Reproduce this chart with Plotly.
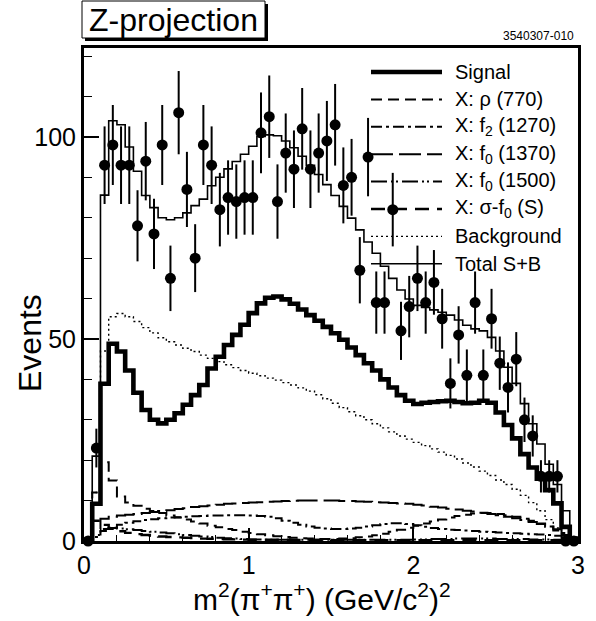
import plotly.graph_objects as go

# ---------------- binning ----------------
X_MIN, X_MAX, N_BINS = 0.0, 3.0, 60
BW = (X_MAX - X_MIN) / N_BINS
edges = [round(X_MIN + i * BW, 4) for i in range(N_BINS + 1)]
centers = [round((edges[i] + edges[i + 1]) / 2, 4) for i in range(N_BINS)]

# ---------------- data ----------------
data_counts = [0, 23, 93, 98, 93, 93, 78, 94, 76, 98,
               65, 106, 87, 70, 98, 93, 82, 85, 84, 85,
               85, 101, 105, 84, 96, 92, 102, 92, 96, 99,
               103, 88, 90, 67, 95, 59, 59, 82, 52, 58,
               65, 59, 64, 55, 39, 51, 41, 59, 41, 55,
               44, 38, 45, 30, 26, 16, 16, 16, 0, 0]
data_errors = [0, 4.8, 9.6, 9.9, 9.6, 9.6, 8.8, 9.7, 8.7, 9.9,
               8.1, 10.3, 9.3, 8.4, 9.9, 9.6, 9.1, 9.2, 9.2, 9.2,
               9.2, 10.0, 10.2, 9.2, 9.8, 9.6, 10.1, 9.6, 9.8, 9.9,
               10.1, 9.4, 9.5, 8.2, 9.7, 7.7, 7.7, 9.1, 7.2, 7.6,
               8.1, 7.7, 8.0, 7.4, 6.2, 7.1, 6.4, 7.7, 6.4, 7.4,
               6.6, 6.2, 6.7, 5.5, 5.1, 4.0, 4.0, 4.0, 0, 0]

signal = [0, 9.2, 38.9, 48.8, 46.9, 42.2, 36.7, 32.4, 30.0, 29.1,
          30.0, 31.6, 33.7, 36.1, 38.6, 42.7, 45.6, 48.5, 51.0, 53.5,
          56.4, 58.8, 60.2, 60.5, 59.8, 58.7, 57.3, 55.9, 54.5, 53.0,
          51.4, 49.8, 47.9, 46.0, 44.0, 42.2, 40.0, 38.0, 36.1, 34.7,
          33.9, 34.2, 34.4, 34.6, 34.7, 34.4, 34.1, 34.2, 34.7, 34.2,
          31.8, 28.7, 25.4, 21.5, 18.2, 15.4, 12.6, 9.3, 3.5, 0.3]

background = [0, 12.0, 47.0, 55.5, 56.3, 55.5, 54.3, 52.8, 51.5, 50.3,
              49.3, 48.5, 47.7, 46.9, 46.0, 45.2, 44.4, 43.6, 42.9, 42.2,
              41.5, 40.9, 40.3, 39.8, 39.2, 38.6, 37.9, 37.1, 36.2, 35.2,
              34.1, 33.0, 32.0, 31.0, 30.0, 29.0, 28.0, 27.0, 26.0, 25.2,
              24.4, 23.6, 22.8, 22.0, 21.2, 20.3, 19.3, 18.3, 17.3, 16.2,
              15.1, 14.0, 12.8, 11.3, 9.5, 7.5, 5.3, 3.2, 1.5, 0.3]

total_sb = [0, 21.0, 85.6, 104.0, 103.0, 97.5, 91.5, 85.5, 82.5, 80.0,
            79.5, 80.0, 81.2, 83.0, 84.6, 87.9, 90.0, 92.1, 93.9, 95.7,
            97.7, 100.1, 100.5, 100.3, 99.0, 97.3, 95.2, 93.0, 90.7, 88.2,
            85.5, 82.8, 79.9, 77.0, 74.0, 71.2, 68.0, 65.0, 62.1, 59.9,
            58.3, 57.8, 57.2, 56.6, 55.9, 54.7, 53.4, 52.5, 52.0, 50.4,
            47.0, 43.0, 39.0, 34.0, 29.0, 24.0, 19.0, 14.0, 7.5, 1.0]

rho770 = [0, 12.0, 19.5, 15.0, 11.0, 9.5, 8.7, 8.0, 7.4, 6.9,
          6.3, 5.8, 5.3, 4.8, 4.3, 3.8, 3.4, 3.0, 2.7, 2.3,
          2.0, 1.7, 1.4, 1.2, 1.0, 0.8, 0.7, 0.6, 0.5, 0.5,
          0.5, 0.6, 0.7, 0.9, 1.1, 1.4, 1.8, 2.3, 2.8, 3.3,
          3.8, 4.3, 4.8, 5.3, 5.8, 6.2, 6.5, 6.8, 6.9, 6.9,
          6.7, 6.4, 6.0, 5.5, 5.0, 4.3, 3.5, 2.6, 1.5, 0.3]

f2_1270 = [0, 1.0, 2.5, 3.3, 4.0, 4.5, 4.9, 5.2, 5.4, 5.6,
           5.8, 5.9, 6.0, 6.1, 6.2, 6.3, 6.3, 6.4, 6.4, 6.4,
           6.3, 6.2, 6.0, 5.6, 5.0, 4.5, 4.0, 3.6, 3.3, 3.1,
           3.0, 3.0, 3.1, 3.3, 3.6, 3.9, 4.2, 4.4, 4.4, 4.2,
           3.9, 3.5, 3.2, 3.0, 2.8, 2.7, 2.6, 2.5, 2.3, 2.2,
           2.1, 2.0, 1.9, 1.8, 1.7, 1.6, 1.5, 1.3, 0.9, 0.2]

f0_1370 = [0, 3.0, 5.5, 6.0, 6.3, 6.5, 6.7, 6.9, 7.2, 7.4,
           7.6, 7.9, 8.1, 8.4, 8.6, 8.8, 9.0, 9.2, 9.3, 9.4,
           9.5, 9.6, 9.7, 9.8, 9.9, 9.95, 10.0, 10.0, 10.0, 10.0,
           10.0, 9.9, 9.9, 9.8, 9.7, 9.6, 9.5, 9.4, 9.3, 9.2,
           9.0, 8.8, 8.5, 8.3, 8.0, 7.8, 7.5, 7.3, 7.0, 6.7,
           6.4, 6.0, 5.6, 5.2, 4.7, 4.2, 3.6, 2.9, 2.0, 0.5]

f0_1500 = [0, 1.5, 3.0, 3.2, 3.1, 2.9, 2.7, 2.5, 2.3, 2.1,
           1.9, 1.7, 1.5, 1.3, 1.1, 1.0, 0.8, 0.7, 0.6, 0.5,
           0.4, 0.35, 0.3, 0.3, 0.3, 0.3, 0.3, 0.3, 0.3, 0.3,
           0.3, 0.3, 0.3, 0.3, 0.3, 0.3, 0.3, 0.3, 0.3, 0.3,
           0.4, 0.4, 0.5, 0.5, 0.5, 0.6, 0.6, 0.6, 0.6, 0.6,
           0.5, 0.5, 0.5, 0.5, 0.4, 0.4, 0.4, 0.3, 0.2, 0.0]

sigma_f0 = [0, 5.0, 4.0, 3.0, 2.4, 2.0, 1.7, 1.5, 1.3, 1.1,
            1.0, 0.9, 0.8, 0.7, 0.6, 0.55, 0.5, 0.45, 0.4, 0.35,
            0.3, 0.3, 0.3, 0.3, 0.3, 0.25, 0.25, 0.25, 0.25, 0.25,
            0.2, 0.2, 0.2, 0.2, 0.2, 0.2, 0.2, 0.2, 0.2, 0.2,
            0.2, 0.2, 0.2, 0.2, 0.2, 0.2, 0.2, 0.2, 0.2, 0.2,
            0.2, 0.2, 0.2, 0.2, 0.2, 0.2, 0.2, 0.2, 0.1, 0.0]

legend_labels = ["Signal", "X: \u03c1 (770)", "X: f<sub>2</sub> (1270)",
                 "X: f<sub>0</sub> (1370)", "X: f<sub>0</sub> (1500)",
                 "X: \u03c3-f<sub>0</sub> (S)", "Background", "Total S+B"]

x_ticks = [0, 1, 2, 3]
y_ticks = [0, 50, 100]
X_TITLE = "m<sup>2</sup>(\u03c0<sup>+</sup>\u03c0<sup>+</sup>) (GeV/c<sup>2</sup>)<sup>2</sup>"
Y_TITLE = "Events"
BOX_TITLE = "Z-projection"
CORNER_ID = "3540307-010"

FONT = "Liberation Sans, Arial, Helvetica, sans-serif"

# ---------------- geometry ----------------
W, H = 596, 621
L, R, T, B = 84, 18, 48, 80
PW, PH = W - L - R, H - T - B


def px(xp):
    return (xp - L) / PW


def py(yp):
    return (H - B - yp) / PH


def step_xy(vals):
    xs = [edges[0]] + edges[:-1] + [edges[-1], edges[-1]]
    ys = [0] + list(vals) + [vals[-1], 0]
    return xs, ys


styles = [
    (signal, "solid", 4.6),
    (rho770, "11px,6px", 2.0),
    (f2_1270, "11px,4px,3px,4px", 2.0),
    (f0_1370, "22px,6px", 2.0),
    (f0_1500, "16px,4px,2px,3px,2px,4px", 2.0),
    (sigma_f0, "14px,8px", 2.4),
    (background, "2px,3px", 1.4),
    (total_sb, "solid", 1.6),
]

fig = go.Figure()
for vals, dash, wdt in styles:
    xs, ys = step_xy(vals)
    fig.add_trace(go.Scatter(x=xs, y=ys, mode="lines", line_shape="hv",
                             line=dict(color="black", width=wdt, dash=dash),
                             showlegend=False, hoverinfo="skip"))

fig.add_trace(go.Scatter(
    x=centers, y=data_counts, mode="markers",
    marker=dict(color="black", size=11),
    error_y=dict(type="data", array=data_errors, visible=True,
                 color="black", thickness=2, width=0),
    cliponaxis=False, showlegend=False))

shapes = []
# title box with shadow
shapes.append(dict(type="rect", xref="paper", yref="paper",
                   x0=px(85), x1=px(268), y0=py(41), y1=py(4),
                   fillcolor="black", line=dict(width=0)))
shapes.append(dict(type="rect", xref="paper", yref="paper",
                   x0=px(82), x1=px(265), y0=py(38), y1=py(1),
                   fillcolor="white", line=dict(color="black", width=1)))

annotations = [
    dict(text=BOX_TITLE, x=px(173.5), y=py(20), xref="paper", yref="paper",
         showarrow=False, font=dict(family=FONT, size=32, color="black"),
         xanchor="center", yanchor="middle"),
    dict(text=CORNER_ID, x=px(576), y=py(36), xref="paper", yref="paper",
         showarrow=False, font=dict(family=FONT, size=12, color="black"),
         xanchor="right", yanchor="middle"),
    dict(text=X_TITLE, x=px(322), y=py(597), xref="paper", yref="paper",
         showarrow=False, font=dict(family=FONT, size=30, color="black"),
         xanchor="center", yanchor="middle"),
    dict(text=Y_TITLE, x=px(30), y=py(343), xref="paper", yref="paper",
         showarrow=False, font=dict(family=FONT, size=32, color="black"),
         xanchor="center", yanchor="middle", textangle=-90),
]

# legend (drawn manually, no fill)
for i, (label, (vals, dash, wdt)) in enumerate(zip(legend_labels, styles)):
    yrow = 72 + 27.4 * i
    shapes.append(dict(type="line", xref="paper", yref="paper",
                       x0=px(371), x1=px(442), y0=py(yrow), y1=py(yrow),
                       line=dict(color="black", width=wdt, dash=dash)))
    annotations.append(dict(text=label, x=px(453), y=py(yrow), xref="paper",
                            yref="paper", showarrow=False,
                            font=dict(family=FONT, size=20, color="black"),
                            xanchor="left", yanchor="middle"))

fig.update_layout(
    width=W, height=H,
    margin=dict(l=L, r=R, t=T, b=B, pad=0),
    paper_bgcolor="white", plot_bgcolor="white",
    font=dict(family=FONT, color="black"),
    shapes=shapes, annotations=annotations,
    xaxis=dict(range=[X_MIN, X_MAX], tickmode="array", tickvals=x_ticks,
               ticktext=[str(v) for v in x_ticks],
               ticks="inside", ticklen=13, tickwidth=1.5, tickcolor="black",
               minor=dict(dtick=0.2, tick0=0, ticks="inside", ticklen=6,
                          tickwidth=1.2, tickcolor="black", showgrid=False),
               showline=True, linewidth=3, linecolor="black", mirror=True,
               showgrid=False, zeroline=False,
               tickfont=dict(family=FONT, size=25, color="black")),
    yaxis=dict(range=[0, 122], tickmode="array", tickvals=y_ticks,
               ticktext=[str(v) for v in y_ticks],
               ticks="inside", ticklen=15, tickwidth=1.5, tickcolor="black",
               minor=dict(dtick=10, tick0=0, ticks="inside", ticklen=8,
                          tickwidth=1.2, tickcolor="black", showgrid=False),
               showline=True, linewidth=3, linecolor="black", mirror=True,
               showgrid=False, zeroline=False,
               tickfont=dict(family=FONT, size=25, color="black")),
)

fig.write_html("out.html")
